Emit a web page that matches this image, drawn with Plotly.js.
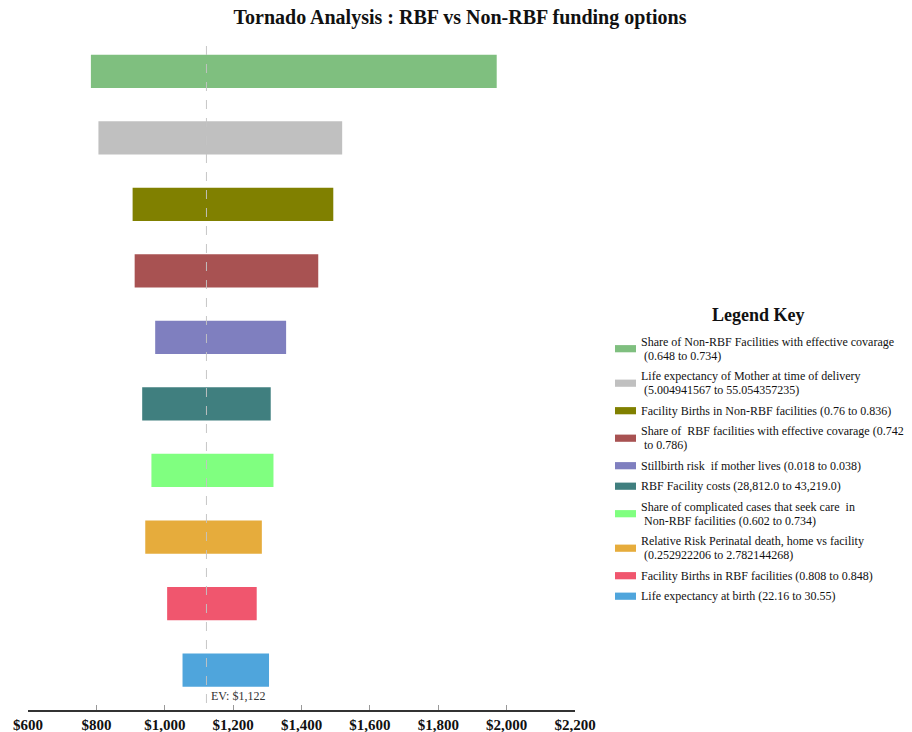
<!DOCTYPE html>
<html><head><meta charset="utf-8">
<script src="https://cdn.plot.ly/plotly-3.0.1.min.js"></script>
<style>html,body{margin:0;padding:0;background:#fff}#chart{width:912px;height:732px}</style>
</head><body><div id="chart"></div>
<script>
// ---- data ----
const categories = [
  "Share of Non-RBF Facilities with effective covarage",
  "Life expectancy of Mother at time of delivery",
  "Facility Births in Non-RBF facilities",
  "Share of RBF facilities with effective covarage",
  "Stillbirth risk if mother lives",
  "RBF Facility costs",
  "Share of complicated cases that seek care in Non-RBF facilities",
  "Relative Risk Perinatal death, home vs facility",
  "Facility Births in RBF facilities",
  "Life expectancy at birth"
];
const lowValues  = [784, 806, 906, 912, 972, 934, 961, 943, 1007, 1052];
const highValues = [1971, 1519, 1493, 1449, 1355, 1310, 1318, 1284, 1269, 1305];
const barColors = ["#7fbf7f", "#c0c0c0", "#808000", "#a85252", "#7f7fbf",
                   "#407f7f", "#80ff80", "#e6ac3c", "#f0566e", "#4fa5dc"];
const legendLabels = [
  ["Share of Non-RBF Facilities with effective covarage", "\u00a0(0.648 to 0.734)"],
  ["Life expectancy of Mother at time of delivery", "\u00a0(5.004941567 to 55.054357235)"],
  ["Facility Births in Non-RBF facilities (0.76 to 0.836)"],
  ["Share of \u00a0RBF facilities with effective covarage (0.742", "\u00a0to 0.786)"],
  ["Stillbirth risk \u00a0if mother lives (0.018 to 0.038)"],
  ["RBF Facility costs (28,812.0 to 43,219.0)"],
  ["Share of complicated cases that seek care \u00a0in", "\u00a0Non-RBF facilities (0.602 to 0.734)"],
  ["Relative Risk Perinatal death, home vs facility", "\u00a0(0.252922206 to 2.782144268)"],
  ["Facility Births in RBF facilities (0.808 to 0.848)"],
  ["Life expectancy at birth (22.16 to 30.55)"]
];
const evValue = 1122;
const evLabel = "EV: $1,122";
const xTickValues = [600, 800, 1000, 1200, 1400, 1600, 1800, 2000, 2200];
const xTickLabels = ["$600", "$800", "$1,000", "$1,200", "$1,400", "$1,600", "$1,800", "$2,000", "$2,200"];
const chartTitle = "Tornado Analysis : RBF vs Non-RBF funding options";
const legendTitle = "Legend Key";

// ---- layout helpers ----
const W = 912, H = 732, L = 28, R = 337, T = 38, B = 22;
const plotW = W - L - R, plotH = H - T - B;
const px2x = px => (px - L) / plotW;
const py2y = py => (H - B - py) / plotH;
const serif = "Liberation Serif, Times New Roman, serif";

const trace = {
  type: "bar",
  orientation: "h",
  y: categories,
  base: lowValues,
  x: highValues.map((h, i) => h - lowValues[i]),
  width: 0.5,
  marker: { color: barColors, line: { width: 0 } },
  showlegend: false,
  hoverinfo: "none"
};

const shapes = [{
  type: "line", xref: "x", yref: "paper",
  x0: evValue, x1: evValue, y0: py2y(703), y1: 1,
  layer: "above",
  line: { color: "rgba(195,195,195,0.95)", width: 1, dash: "dash" }
}];
const annotations = [{
  xref: "x", yref: "paper", x: evValue, y: py2y(696),
  xanchor: "left", yanchor: "middle", xshift: 3,
  text: evLabel, showarrow: false,
  font: { family: serif, size: 12, color: "#333" }
}, {
  xref: "paper", yref: "paper", x: px2x(758), y: py2y(315),
  xanchor: "center", yanchor: "middle",
  text: legendTitle, showarrow: false,
  font: { family: serif, size: 18, weight: "bold", color: "#111" }
}];

// legend entries (one annotation per text line for tight line spacing)
const lineH = 14, gap = 6.5;
let yCursor = 341.7 - lineH / 2;
legendLabels.forEach((lines, i) => {
  const h = lines.length * lineH;
  const cy = yCursor + h / 2;
  shapes.push({
    type: "rect", xref: "paper", yref: "paper",
    x0: px2x(615), x1: px2x(636), y0: py2y(cy + 3.6), y1: py2y(cy - 3.6),
    fillcolor: barColors[i], line: { width: 0 }
  });
  lines.forEach((ln, j) => {
    annotations.push({
      xref: "paper", yref: "paper", x: px2x(639), y: py2y(yCursor + lineH * (j + 0.5)),
      xanchor: "left", yanchor: "middle", align: "left",
      text: ln, showarrow: false,
      font: { family: serif, size: 12, color: "#111" }
    });
  });
  yCursor += h + gap;
});

const layout = {
  width: W, height: H,
  margin: { l: L, r: R, t: T, b: B, pad: 0 },
  paper_bgcolor: "#fff", plot_bgcolor: "#fff",
  title: {
    text: chartTitle, xref: "container", yref: "container",
    x: 460 / W, y: 1 - 17 / H, xanchor: "center", yanchor: "middle",
    font: { family: serif, size: 20, weight: "bold", color: "#111" }
  },
  xaxis: {
    range: [600, 2200], tickvals: xTickValues, ticktext: xTickLabels,
    showgrid: false, zeroline: false,
    showline: true, linecolor: "#333", linewidth: 1.5,
    ticks: "inside", ticklen: 5, tickwidth: 1, tickcolor: "#999",
    tickfont: { family: serif, size: 15, weight: "bold", color: "#111" },
    fixedrange: true
  },
  yaxis: {
    type: "category", categoryorder: "array", categoryarray: categories,
    range: [9.6, -0.5], showticklabels: false, showgrid: false,
    zeroline: false, showline: false, ticks: "", fixedrange: true
  },
  shapes: shapes,
  annotations: annotations,
  showlegend: false
};

Plotly.newPlot("chart", [trace], layout, { displayModeBar: false, staticPlot: true });
</script>
</body></html>
